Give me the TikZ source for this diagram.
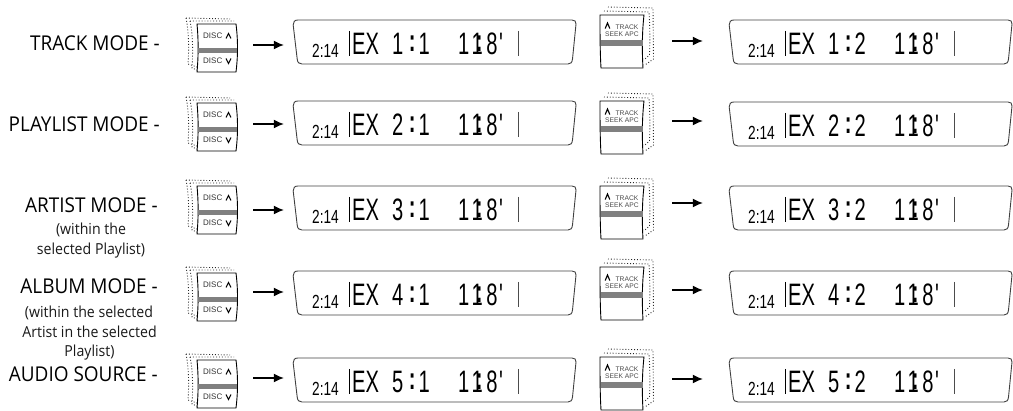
\documentclass[tikz,border=0pt]{standalone}
\usepackage{fontspec}
\usetikzlibrary{arrows.meta}
\setmainfont{Open Sans}[FakeStretch=0.93]
\newfontfamily\lcdfont[FakeStretch=0.65]{Liberation Sans}
\newfontfamily\keyfont{Liberation Sans}
\definecolor{barc}{gray}{0.5}
\tikzset{
  modelabel/.style={inner sep=0pt,anchor=base east,font=\fontsize{20.4}{20.4}\selectfont,text=black},
  sublabel/.style={inner sep=0pt,anchor=base,font=\fontsize{15.2}{15.2}\selectfont,text=black!90},
  keybody/.style={draw=black,line width=0.9pt,fill=white},
  keyback/.style={draw=black!85,line width=0.9pt,dotted},
  keybar/.style={fill=barc,draw=none},
  keyword/.style={inner sep=0pt,text=black!70,font=\keyfont\fontsize{6.7}{7}\selectfont},
  discword/.style={inner sep=0pt,anchor=west,text=black!80,font=\keyfont\fontsize{8}{8}\selectfont},
  chevron/.style={draw=black,line width=1.1pt},
  dispbox/.style={draw=black!75,line width=0.9pt},
  anchorbox/.style={inner sep=0pt,draw=none},
  flowarrow/.style={draw=black,line width=1.2pt,-{Latex[length=10pt,width=9pt]}},
  timetext/.style={inner sep=0pt,anchor=base west,font=\keyfont\fontsize{19}{19}\selectfont\addfontfeature{FakeStretch=0.72}},
  lcdtext/.style={inner sep=0pt,anchor=base west,font=\lcdfont\fontsize{31}{31}\selectfont},
}
\newcommand{\lcdcolon}{\raisebox{3pt}{\bfseries:}}
\newcommand{\lcdline}[2]{EX\kern13pt #1\kern5.5pt\lcdcolon\kern3.2pt #2\kern28.3pt 1\kern2.3pt 1\kern-7pt\lcdcolon\kern3.7pt 8\kern1.5pt'}
\newcommand{\showdisp}[5]{% name x y n m; extra shift
  \begin{scope}[shift={(#2,#3)}]
    \node[anchorbox,minimum width=283pt,minimum height=44pt] (#1) at (141.5,22) {};
    \draw[dispbox] (5,0) -- (279,0) .. controls (282,0) and (283,1.5) .. (283,4)
      -- (279.5,39) .. controls (279,42.5) and (278,44) .. (275,44)
      -- (9,44) .. controls (6,44) and (4.5,42.5) .. (4.2,39)
      -- (0.2,5) .. controls (0,2) and (1.5,0) .. (5,0) -- cycle;
    \node[timetext] (#1t) at (19,37.5) {2:14};
    \draw[black,line width=0.8pt] (56,11) -- (56,36.5);
    \draw[black!70,line width=0.8pt] (225,11) -- (225,36.5);
    \node[lcdtext] (#1x) at (59,34.5) {\lcdline{#4}{#5}};
  \end{scope}}
\newcommand{\showdisc}[2]{% name top
  \begin{scope}[shift={(197,#2)}]
    \draw[keyback] (-11,-6) -- (33,-5) (-11,-6) .. controls (-8,8) and (-8,28) .. (-9,40) -- (0,43);
    \draw[keyback] (-7,-3) -- (37,-3) (-7,-3) .. controls (-4,10) and (-4,30) .. (-5,44) -- (0,46);
    \node[anchorbox,minimum width=40pt,minimum height=48pt] (#1) at (20,24) {};
    \draw[keybody] (0,0) -- (39,0) .. controls (41,16) and (41,32) .. (39,48) -- (0,48)
       .. controls (1.5,32) and (1.5,16) .. (0,0) -- cycle;
    \fill[keybar] (0.8,24) rectangle (40,29.5);
    \node[discword] (#1u) at (6,12) {DISC};
    \node[discword] (#1d) at (6,37) {DISC};
    \draw[chevron] (29,14.5) -- (31.5,9.5) -- (34,14.5);
    \draw[chevron] (29,34.5) -- (31.5,39.5) -- (34,34.5);
  \end{scope}}
\newcommand{\showtrack}[2]{% name top
  \begin{scope}[shift={(600,#2)}]
    \draw[keyback] (8,-8) -- (53,-7) -- (53.5,44) -- (45,50);
    \draw[keyback] (4,-4) -- (49,-3) .. controls (50,10) and (50,30) .. (49.5,40) -- (45,44);
    \node[anchorbox,minimum width=43pt,minimum height=53pt] (#1) at (21.5,26.5) {};
    \draw[keybody] (0,0) -- (44,0) .. controls (42,18) and (42,36) .. (43,53) -- (1,53)
       .. controls (0,36) and (0,18) .. (0,0) -- cycle;
    \fill[keybar] (0.5,25) rectangle (42.5,31);
    \node[keyword] (#1a) at (27,12) {TRACK};
    \node[keyword] (#1b) at (22,19) {SEEK APC};
    \draw[chevron] (5.2,13.5) -- (7.5,8) -- (9.8,13.5);
  \end{scope}}
\begin{document}
\begin{tikzpicture}[x=1pt,y=-1pt]
\useasboundingbox (0,0) rectangle (1013,411);
\node[modelabel] (m1) at (160,51) {TRACK MODE -};
\node[modelabel] (m2) at (160,132) {PLAYLIST MODE -};
\node[modelabel] (m3) at (158,213) {ARTIST MODE -};
\node[sublabel] (s3a) at (91,235) {(within the};
\node[sublabel] (s3b) at (91,255) {selected Playlist)};
\node[modelabel] (m4) at (158,294) {ALBUM MODE -};
\node[sublabel] (s4a) at (89,318) {(within the selected};
\node[sublabel] (s4b) at (89.5,338) {Artist in the selected};
\node[sublabel] (s4c) at (89.5,357) {Playlist)};
\node[modelabel] (m5) at (158,382) {AUDIO SOURCE -};
\foreach \r/\kt/\ka/\dt/\tt/\tb/\tc in {%
  1/24/45/20/15/41/20,
  2/103/124/101/101/121/102,
  3/186/210/186/186/203/186,
  4/273/292/271/267/290/271,
  5/360/378/358/357/379/358}{
  \showdisc{dk\r}{\kt}
  \showdisp{dl\r}{293}{\dt}{\r}{1}
  \showtrack{tk\r}{\tt}
  \showdisp{dr\r}{729}{\tc}{\r}{2}
  \coordinate (ya\r) at (0,\ka);
  \coordinate (yb\r) at (0,\tb);
  \draw[flowarrow,shorten <=16pt,shorten >=9pt] (dk\r.east |- ya\r) -- (dl\r.west |- ya\r);
  \draw[flowarrow,shorten <=29pt,shorten >=26pt] (tk\r.east |- yb\r) -- (dr\r.west |- yb\r);
}
\end{tikzpicture}
\end{document}
